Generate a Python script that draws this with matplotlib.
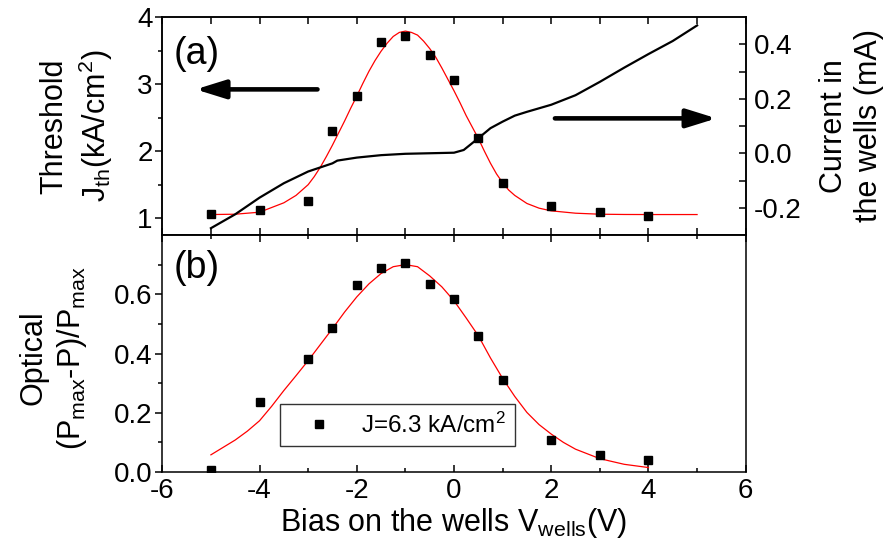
import matplotlib
matplotlib.use('Agg')
import matplotlib.pyplot as plt
from matplotlib.ticker import MultipleLocator, FixedLocator

plt.rcParams['font.family'] = ['Liberation Sans', 'DejaVu Sans']
plt.rcParams['mathtext.fontset'] = 'custom'
plt.rcParams['mathtext.rm'] = 'Liberation Sans'
plt.rcParams['mathtext.it'] = 'Liberation Sans:italic'
plt.rcParams['mathtext.bf'] = 'Liberation Sans:bold'
plt.rcParams['axes.unicode_minus'] = False
plt.rcParams['axes.linewidth'] = 1.1

#---- measured points (squares)
bias_pts = [-5, -4, -3, -2.5, -2, -1.5, -1, -0.5, 0, 0.5, 1, 2, 3, 4]
jth_pts = [1.065, 1.125, 1.25, 2.305, 2.825, 3.62, 3.71, 3.435, 3.06, 2.19, 1.53, 1.175, 1.09, 1.04]
opt_pts = [0.006, 0.236, 0.383, 0.487, 0.63, 0.69, 0.706, 0.633, 0.585, 0.458, 0.312, 0.107, 0.056, 0.042]

#---- red fit curves
jfit_x = [-5, -4.5, -4, -3.5, -3.25, -3, -2.875, -2.75, -2.625, -2.5, -2.375, -2.25, -2.125,
          -2, -1.875, -1.75, -1.625, -1.5, -1.375, -1.25, -1.125, -1, -0.875, -0.75, -0.625,
          -0.5, -0.375, -0.25, -0.125, 0, 0.125, 0.25, 0.375, 0.5, 0.625, 0.75, 0.875,
          1, 1.125, 1.25, 1.5, 1.75, 2, 2.5, 3, 3.5, 4, 4.5, 5]
jfit_y = [1.055, 1.06, 1.09, 1.23, 1.34, 1.50, 1.62, 1.76, 1.92, 2.09, 2.27, 2.45, 2.64,
          2.82, 3.01, 3.19, 3.35, 3.49, 3.61, 3.71, 3.77, 3.79, 3.77, 3.73, 3.64,
          3.53, 3.40, 3.24, 3.07, 2.90, 2.72, 2.53, 2.36, 2.19, 2.00, 1.82, 1.66,
          1.53, 1.42, 1.34, 1.22, 1.15, 1.11, 1.075, 1.06, 1.056, 1.055, 1.055, 1.055]
ofit_x = [-5, -4.5, -4.25, -4, -3.75, -3.5, -3.25, -3, -2.75, -2.5, -2.25, -2, -1.75, -1.5,
          -1.25, -1, -0.75, -0.5, -0.25, 0, 0.25, 0.5, 0.75, 1, 1.25, 1.5, 1.75, 2, 2.25,
          2.5, 3, 3.5, 4]
ofit_y = [0.058, 0.108, 0.138, 0.173, 0.222, 0.275, 0.325, 0.376, 0.43, 0.484, 0.54, 0.591, 0.635, 0.67,
          0.693, 0.70, 0.693, 0.662, 0.625, 0.578, 0.52, 0.46, 0.385, 0.316, 0.255, 0.201, 0.16, 0.128, 0.10,
          0.077, 0.045, 0.026, 0.015]

#---- current in the wells (black line, right axis)
cur_x = [-5, -4.5, -4, -3.5, -3, -2.5, -2.4, -2, -1.5, -1, -0.5, 0, 0.2, 0.5, 0.75,
         1, 1.25, 1.5, 2, 2.5, 3, 3.5, 4, 4.5, 5]
cur_y = [-0.275, -0.224, -0.163, -0.110, -0.067, -0.037, -0.027, -0.016, -0.007, -0.002, 0.0, 0.002, 0.012, 0.055, 0.092,
         0.116, 0.138, 0.152, 0.178, 0.213, 0.262, 0.314, 0.364, 0.412, 0.469]

fig = plt.figure(figsize=(8.91, 5.5), dpi=100)
W, H = 891.0, 550.0
L, R = 162.3, 745.7
ax1 = fig.add_axes([L / W, 1 - 235 / H, (R - L) / W, 218 / H])
ax3 = fig.add_axes([L / W, 1 - 472 / H, (R - L) / W, 237 / H])

#---- panel (a)
ax1.plot(jfit_x, jfit_y, color='red', lw=0.9, zorder=2)
ax1.plot(bias_pts, jth_pts, ls='none', marker='s', ms=5.5, color='black', zorder=3)
ax1.set_xlim(-6, 6)
ax1.set_ylim(0.75, 4)
ax1.set_yticks([1, 2, 3, 4])
ax1.yaxis.set_minor_locator(FixedLocator([1.5, 2.5, 3.5]))
ax1.xaxis.set_major_locator(MultipleLocator(1))
ax1.tick_params(axis='x', which='both', direction='in', top=True, bottom=True,
                labelbottom=False, length=5, width=1.1)
ax1.tick_params(axis='y', which='major', direction='out', length=5, width=1.1, labelsize=20, pad=2)
ax1.tick_params(axis='y', which='minor', direction='out', length=3, width=1.1)

ax2 = ax1.twinx()
ax2.plot(cur_x, cur_y, color='black', lw=1.6, zorder=4)
ax2.set_ylim(-0.3, 0.5)
ax2.set_yticks([-0.2, 0.0, 0.2, 0.4])
ax2.yaxis.set_minor_locator(FixedLocator([-0.1, 0.1, 0.3]))
ax2.tick_params(axis='y', which='both', direction='in', length=5, width=1.1, labelsize=20, pad=6)

ax1.text(0.02, 0.83, '(a)', transform=ax1.transAxes, fontsize=27, ha='left', va='center')
ax1.annotate('', xy=(0.057, 0.668), xytext=(0.266, 0.668), xycoords='axes fraction',
             arrowprops=dict(arrowstyle='-|>,head_length=0.9,head_width=0.28', lw=3.3,
                             color='black', mutation_scale=20, shrinkA=0, shrinkB=0))
ax1.annotate('', xy=(0.950, 0.535), xytext=(0.673, 0.535), xycoords='axes fraction',
             arrowprops=dict(arrowstyle='-|>,head_length=0.9,head_width=0.28', lw=3.3,
                             color='black', mutation_scale=20, shrinkA=0, shrinkB=0))

#---- panel (b)
ax3.plot(ofit_x, ofit_y, color='red', lw=0.9, zorder=2)
ax3.plot(bias_pts, opt_pts, ls='none', marker='s', ms=5.5, color='black', zorder=3,
         label='J=6.3 kA/cm$^{2}$')
ax3.set_xlim(-6, 6)
ax3.set_ylim(0, 0.8)
ax3.set_yticks([0.0, 0.2, 0.4, 0.6])
ax3.set_yticklabels(['0.0', '0.2', '0.4', '0.6'])
ax3.yaxis.set_minor_locator(FixedLocator([0.1, 0.3, 0.5, 0.7]))
ax3.set_xticks([-6, -4, -2, 0, 2, 4, 6])
ax3.xaxis.set_minor_locator(MultipleLocator(1))
ax3.tick_params(axis='x', which='major', direction='in', top=True, bottom=True, length=5,
                width=1.1, labelsize=20, pad=4)
ax3.tick_params(axis='x', which='minor', direction='in', top=True, bottom=True, length=3, width=1.1)
ax3.tick_params(axis='y', which='major', direction='out', length=5, width=1.1, labelsize=20, pad=2)
ax3.tick_params(axis='y', which='minor', direction='out', length=3, width=1.1)
ax3.text(0.02, 0.861, '(b)', transform=ax3.transAxes, fontsize=27, ha='left', va='center')

leg = ax3.legend(loc='lower left', bbox_to_anchor=(0.2017, 0.11), borderaxespad=0,
                 fontsize=17.5, frameon=True, fancybox=False, handlelength=2.5,
                 handletextpad=0.5, borderpad=0.35, markerscale=1.0)
leg.get_frame().set_edgecolor('black')
leg.get_frame().set_linewidth(1.0)

ax3.set_xlabel('Bias on the wells V$_{\\mathrm{wells}}$(V)', fontsize=22, labelpad=2)

#---- y labels
fig.text(77.5 / W, 1 - 126 / H, 'Threshold\nJ$_{\\mathrm{th}}$(kA/cm$^{2}$)', rotation=90,
         ha='center', va='center', multialignment='center', fontsize=22, linespacing=1.25)
fig.text(53.5 / W, 1 - 358 / H, 'Optical\n(P$_{\\mathrm{max}}$-P)/P$_{\\mathrm{max}}$', rotation=90,
         ha='center', va='center', multialignment='center', fontsize=22, linespacing=1.25)
fig.text(851.5 / W, 1 - 126 / H, 'Current in\nthe wells (mA)', rotation=90,
         ha='center', va='center', multialignment='center', fontsize=22, linespacing=1.25)

fig.savefig('out.png', dpi=100)
